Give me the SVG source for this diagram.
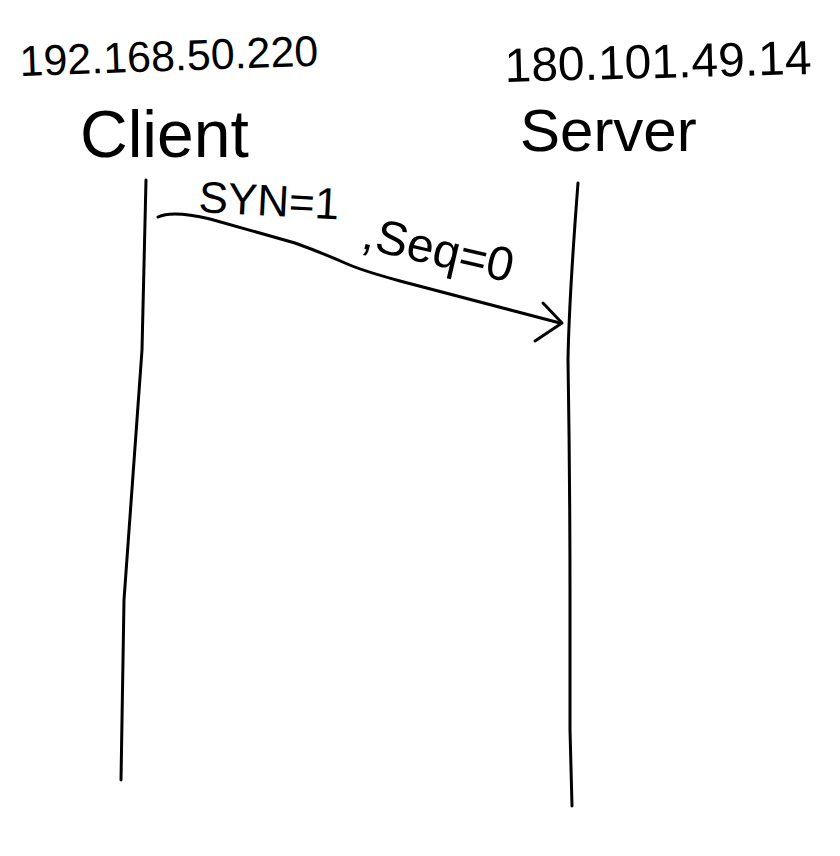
<svg xmlns="http://www.w3.org/2000/svg" width="840" height="856" viewBox="0 0 840 856">
<style>
.t{font-family:"Liberation Sans","DejaVu Sans",sans-serif;fill:#000;}
.ln{fill:none;stroke:#000;stroke-width:3;stroke-linecap:round;stroke-linejoin:round;}
</style>
<rect width="840" height="856" fill="#fff"/>
<g id="client">
<text class="t" x="20" y="76" font-size="43" transform="rotate(-2 20 76)">192.168.50.220</text>
<text class="t" x="80" y="157" font-size="66">Client</text>
<path class="ln" d="M146,180 L142,350 L124,600 L121,780"/>
</g>
<g id="server">
<text class="t" x="505" y="82" font-size="48" transform="rotate(-1.5 505 82)">180.101.49.14</text>
<text class="t" x="520" y="151" font-size="60">Server</text>
<path class="ln" d="M578,183 Q569,300 568,360 Q570,480 570,600 L570,730 L572,806"/>
</g>
<g id="connectors">
<path class="ln" d="M158,217 Q172,210 210,219 L295,243 Q320,252 345,263 Q360,270 400,281 L560,323"/>
<path class="ln" d="M543,303 L562,323 L535,341"/>
<text class="t" x="198" y="212" font-size="44" transform="rotate(3 198 212)">SYN=1</text>
<text class="t" x="360" y="248" font-size="48" transform="rotate(13 360 248)">,Seq=0</text>
</g>
</svg>
